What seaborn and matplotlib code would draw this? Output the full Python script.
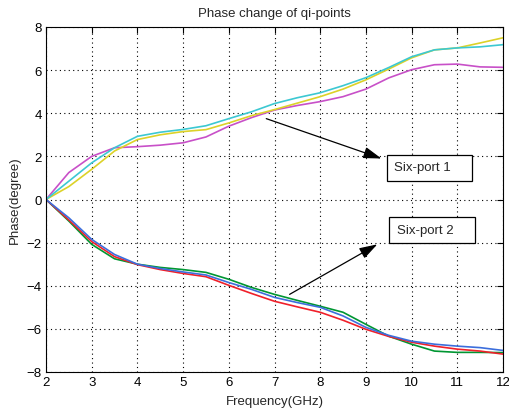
import numpy as np
import pandas as pd
import matplotlib
matplotlib.use("Agg")
import matplotlib.pyplot as plt
from matplotlib.patches import Rectangle
import seaborn as sns

freq = [2, 2.5, 3, 3.5, 4, 4.5, 5, 5.5, 6, 6.5, 7, 7.5, 8, 8.5, 9, 9.5, 10, 10.5, 11, 11.5, 12]
cyan = [0, 0.85, 1.7, 2.4, 2.93, 3.12, 3.25, 3.42, 3.75, 4.07, 4.45, 4.72, 4.95, 5.28, 5.65, 6.12, 6.62, 6.94, 7.03, 7.08, 7.18]
yellow = [0, 0.6, 1.4, 2.25, 2.78, 3.0, 3.15, 3.24, 3.55, 3.89, 4.17, 4.47, 4.77, 5.12, 5.55, 6.05, 6.57, 6.94, 7.03, 7.26, 7.5]
magenta = [0, 1.25, 2.0, 2.4, 2.45, 2.52, 2.63, 2.9, 3.4, 3.8, 4.15, 4.36, 4.54, 4.77, 5.12, 5.64, 6.02, 6.25, 6.28, 6.15, 6.13]
green = [0, -1.0, -2.08, -2.75, -3.0, -3.15, -3.25, -3.38, -3.7, -4.08, -4.4, -4.68, -4.95, -5.23, -5.79, -6.34, -6.71, -7.03, -7.09, -7.09, -7.1]
blue = [0, -0.85, -1.85, -2.55, -3.0, -3.2, -3.36, -3.5, -3.85, -4.17, -4.54, -4.78, -5.0, -5.4, -5.93, -6.3, -6.57, -6.71, -6.8, -6.87, -7.0]
red = [0, -0.95, -1.95, -2.65, -3.02, -3.25, -3.43, -3.58, -3.98, -4.36, -4.72, -4.98, -5.23, -5.6, -6.02, -6.35, -6.62, -6.8, -6.94, -7.03, -7.17]

series = {"magenta": magenta, "yellow": yellow, "cyan": cyan,
          "green": green, "red": red, "blue": blue}
colors = {"magenta": "#c850c8", "yellow": "#dcd228", "cyan": "#3cc8d2",
          "green": "#009632", "red": "#f0202a", "blue": "#3c6edc"}

labels = ["Six-port 1", "Six-port 2"]

df = pd.concat([pd.DataFrame({"freq": freq, "phase": v, "series": k}) for k, v in series.items()],
               ignore_index=True)

sns.set_style("white")
plt.rcParams['font.family'] = ['Liberation Sans', 'DejaVu Sans']

fig = plt.figure(figsize=(5.09, 4.14), dpi=100)
ax = fig.add_axes([46/509, 1 - 373/414, (503 - 46)/509, (373 - 28)/414])

sns.lineplot(data=df, x="freq", y="phase", hue="series", palette=colors,
             ax=ax, legend=False, linewidth=1.2, estimator=None, sort=False)

ax.set_xlim(2, 12)
ax.set_ylim(-8, 8)
ax.set_xticks(range(2, 13))
ax.set_yticks(range(-8, 9, 2))
ax.grid(True, color="black", linestyle=(0, (1, 3)), linewidth=0.8)
ax.tick_params(direction="in", top=True, right=True, length=4, labelsize=9.5, colors="black", pad=3)
for s in ax.spines.values():
    s.set_color("black")
    s.set_linewidth(0.8)

ax.set_title("Phase change of qi-points", fontsize=9.5, pad=8)
ax.set_xlabel("Frequency(GHz)", fontsize=9.5, labelpad=5)
ax.set_ylabel("Phase(degree)", fontsize=9.5, labelpad=4)

# annotation boxes
ax.add_patch(Rectangle((9.47, 0.88), 1.85, 1.2, facecolor="white", edgecolor="black", lw=0.9, zorder=5))
ax.add_patch(Rectangle((9.51, -2.04), 1.88, 1.25, facecolor="white", edgecolor="black", lw=0.9, zorder=5))
ax.text(9.62, 1.5, labels[0], fontsize=9.5, va="center", ha="left", zorder=6)
ax.text(9.67, -1.40, labels[1], fontsize=9.5, va="center", ha="left", zorder=6)

arrowprops = dict(arrowstyle="-|>,head_length=1.1,head_width=0.35", color="black", lw=0.9,
                  shrinkA=0, shrinkB=0)
ax.annotate("", xy=(9.34, 1.9), xytext=(6.82, 3.75), arrowprops=arrowprops)
ax.annotate("", xy=(9.25, -2.08), xytext=(7.33, -4.4), arrowprops=arrowprops)

fig.savefig("out.png", dpi=100)
